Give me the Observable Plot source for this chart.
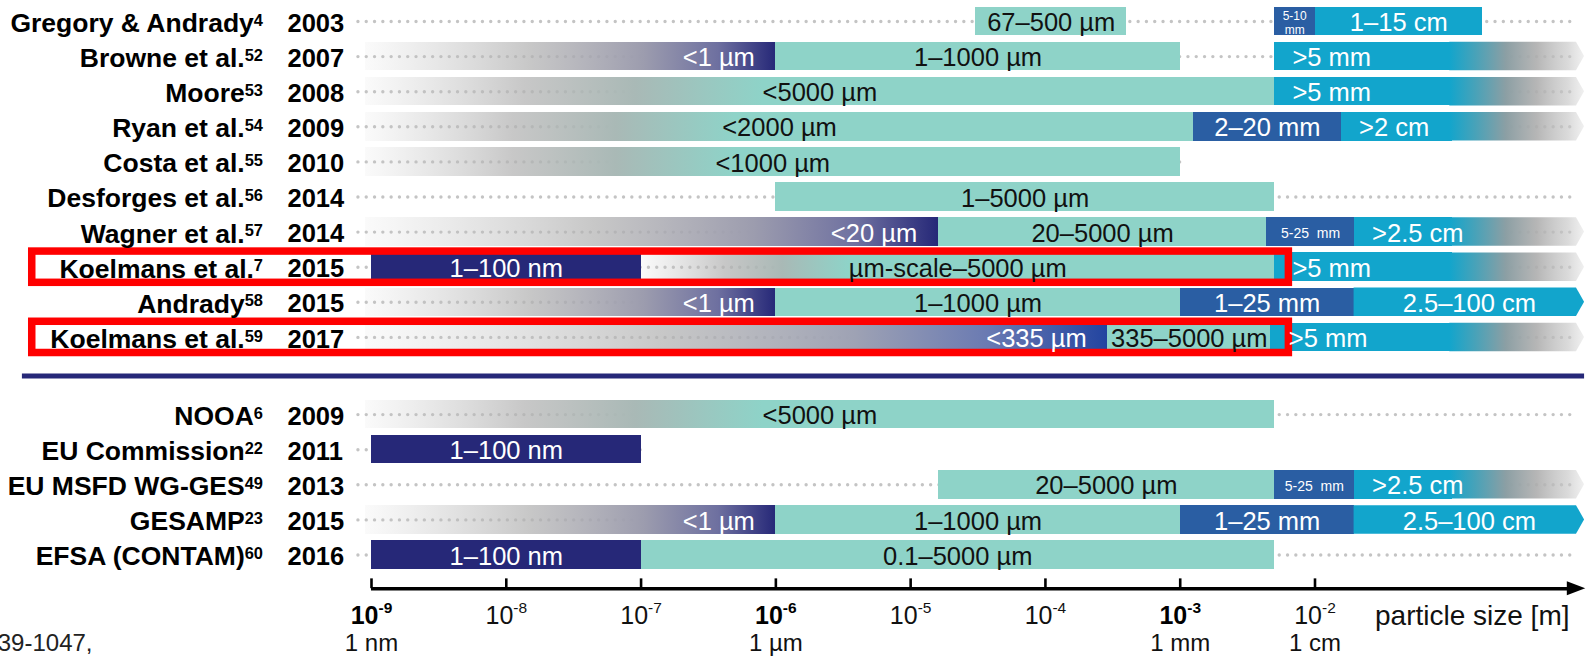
<!DOCTYPE html>
<html><head><meta charset="utf-8">
<script src="https://cdn.jsdelivr.net/npm/d3@7"></script>
<script src="https://cdn.jsdelivr.net/npm/@observablehq/plot@0.6"></script>
<style>html,body{margin:0;padding:0;background:#fff;overflow:hidden}svg{display:block}</style>
</head><body>
<script>
// ---------------- data ----------------
const studies = ["Gregory & Andrady^4", "Browne et al.^52", "Moore^53", "Ryan et al.^54", "Costa et al.^55",
  "Desforges et al.^56", "Wagner et al.^57", "Koelmans et al.^7", "Andrady^58", "Koelmans et al.^59",
  "NOOA^6", "EU Commission^22", "EU MSFD WG-GES^49", "GESAMP^23", "EFSA (CONTAM)^60"];
const years = [2003, 2007, 2008, 2009, 2010, 2014, 2014, 2015, 2015, 2017, 2009, 2011, 2013, 2015, 2016];
const regulatory = [false, false, false, false, false, false, false, false, false, false, true, true, true, true, true];

const LOW = 9e-10;   // open lower end ("<" ranges)
const HIGH = 1;      // open upper end (">" ranges), metres
// [row, from (m), to (m), kind, label, fadeEnd]
const segments = [
  [0, 3.05e-5, 4.0e-4, "teal", "67–500 µm"],
  [0, 5e-3, 1e-2, "mid", "5-10\nmm"],
  [0, 1e-2, 0.175, "cyan", "1–15 cm"],
  [1, LOW, 1e-6, "lowNavy", "<1 µm"],
  [1, 1e-6, 1e-3, "teal", "1–1000 µm"],
  [1, 5e-3, HIGH, "high", ">5 mm"],
  [2, LOW, 5e-3, "lowTeal", "<5000 µm", 8e-7],
  [2, 5e-3, HIGH, "high", ">5 mm"],
  [3, LOW, 1.26e-3, "lowTeal", "<2000 µm", 5e-7],
  [3, 1.26e-3, 1.56e-2, "mid", "2–20 mm"],
  [3, 1.56e-2, HIGH, "high", ">2 cm"],
  [4, LOW, 1e-3, "lowTeal", "<1000 µm", 5e-7],
  [5, 1e-6, 5e-3, "teal", "1–5000 µm"],
  [6, LOW, 1.6e-5, "lowNavy", "<20 µm"],
  [6, 1.6e-5, 4.4e-3, "teal", "20–5000 µm"],
  [6, 4.4e-3, 1.95e-2, "mid", "5-25  mm"],
  [6, 1.95e-2, HIGH, "high", ">2.5 cm"],
  [7, 1e-9, 1e-7, "navy", "1–100 nm"],
  [7, 1e-7, 5e-3, "lowTeal", "µm-scale–5000 µm", 3.5e-6],
  [7, 5e-3, HIGH, "high", ">5 mm"],
  [8, LOW, 1e-6, "lowNavy", "<1 µm"],
  [8, 1e-6, 1e-3, "teal", "1–1000 µm"],
  [8, 1e-3, 1.95e-2, "mid", "1–25 mm"],
  [8, 1.95e-2, HIGH, "arrow", "2.5–100 cm"],
  [9, LOW, 2.9e-4, "lowBlue", "<335 µm"],
  [9, 2.9e-4, 4.7e-3, "teal", "335–5000 µm"],
  [9, 4.7e-3, HIGH, "high", ">5 mm"],
  [10, LOW, 5e-3, "lowTeal", "<5000 µm", 8e-7],
  [11, 1e-9, 1e-7, "navy", "1–100 nm"],
  [12, 1.6e-5, 5e-3, "teal", "20–5000 µm"],
  [12, 5e-3, 1.95e-2, "mid", "5-25  mm"],
  [12, 1.95e-2, HIGH, "high", ">2.5 cm"],
  [13, LOW, 1e-6, "lowNavy", "<1 µm"],
  [13, 1e-6, 1e-3, "teal", "1–1000 µm"],
  [13, 1e-3, 1.95e-2, "mid", "1–25 mm"],
  [13, 1.95e-2, HIGH, "arrow", "2.5–100 cm"],
  [14, 1e-9, 1e-7, "navy", "1–100 nm"],
  [14, 1e-7, 5e-3, "teal", "0.1–5000 µm"]
];
const smallLabels = ["5-10\nmm", "5-25  mm"];
const dotFrom = 8e-10;
const dotTo = [0.9, 0.9, 0.9, 0.9, 1e-3, 0.9, 0.9, 0.9, 0.9, 0.9, 0.9, 1e-7, 0.9, 0.9, 0.9];
const highlighted = [7, 9];
const highlightEnd = 6.4e-3;
const tickExps = [-9, -8, -7, -6, -5, -4, -3, -2];
const boldExps = [-9, -6, -3];
const unitTicks = [1e-9, 1e-6, 1e-3, 1e-2];
const unitLabels = ["1 nm", "1 µm", "1 mm", "1 cm"];
const axisTitle = "particle size [m]";
const caption = "Environ. Sci. Technol. 2019, 53, 1039-1047,";

// ---------------- layout / style ----------------
const GAP = 1.2;
const rowY = i => i + (regulatory[i] ? GAP : 0);
const H = 0.406;
const SEP_ROW = 10.1, AXIS_ROW = 16.16;
const FADE_FROM = 0.1;
const BODY_END = HIGH * 10 ** -0.06;
const LEFT_EDGE = 10 ** -11.59, BOX_LEFT = 10 ** -11.517;
const AXIS_END = 0.8, AXIS_HEAD_BASE = 0.745, AXIS_TIP = 1.02;
const colors = {teal: "#8ed3c8", navy: "#262878", mid: "#2a5ea3", cyan: "#12a5cc"};
const navy = "#262878";

const rows = studies.map((name, i) => ({name, year: String(years[i]), y: rowY(i), i}));
const segs = segments.map(([row, from, to, kind, label, fadeEnd]) => ({row, y: rowY(row), from, to, kind, label, fadeEnd}));

const solid = [], grads = [], arrowPts = [];
function pentagon(s, start, fill) {
  const id = arrowPts.length;
  arrowPts.push({id, fill, x: start, y1: s.y - H, y2: s.y + H},
                {id, fill, x: BODY_END, y1: s.y - H, y2: s.y + H},
                {id, fill, x: s.to, y1: s.y, y2: s.y});
}
for (const s of segs) {
  if (s.kind in colors) solid.push({...s, fill: colors[s.kind]});
  else if (s.kind === "lowNavy") grads.push({...s, fill: "url(#gLowNavy)"});
  else if (s.kind === "lowBlue") grads.push({...s, fill: "url(#gLowBlue)"});
  else if (s.kind === "lowTeal") {
    grads.push({...s, to: s.fadeEnd, fill: "url(#gLowTeal)"});
    solid.push({...s, from: s.fadeEnd, fill: colors.teal});
  } else if (s.kind === "high") {
    solid.push({...s, to: FADE_FROM * 1.05, fill: colors.cyan});
    pentagon(s, FADE_FROM, "url(#gHigh)");
  } else if (s.kind === "arrow") pentagon(s, s.from, colors.cyan);
}
const labelColor = s => (s.kind === "teal" || s.kind === "lowTeal") ? "#111" : "#fff";
const endLabels = segs.filter(s => s.kind === "lowNavy" || s.kind === "lowBlue");
const startLabels = segs.filter(s => s.kind === "high");
const midLabels = segs.filter(s => !endLabels.includes(s) && !startLabels.includes(s) && !smallLabels.includes(s.label));
const tinyLabels = segs.filter(s => smallLabels.includes(s.label));

const font = '"Liberation Sans", Arial, Helvetica, sans-serif';
const rectOpts = {x1: "from", x2: "to", y1: d => d.y - H, y2: d => d.y + H, fill: "fill", shapeRendering: "crispEdges"};

const chart = Plot.plot({
  width: 1596, height: 656, margin: 0,
  style: {fontFamily: font, background: "#fff", overflow: "hidden"},
  x: {type: "log", domain: [1e-9, 1e-2], range: [371, 1314.5], axis: null},
  y: {type: "linear", domain: [0, 15.2], range: [21, 554.5], axis: null},
  color: {type: "identity"},
  marks: [
    Plot.ruleY(rows, {y: "y", x1: () => dotFrom, x2: d => dotTo[d.i], stroke: "#c4c4c4", strokeWidth: 3.4, strokeLinecap: "round", strokeDasharray: "0 8.3"}),
    Plot.rect(grads, rectOpts),
    Plot.rect(solid, rectOpts),
    Plot.areaY(arrowPts, {x: "x", y1: "y1", y2: "y2", z: "id", fill: "fill", curve: "linear"}),
    Plot.rect(highlighted, {x1: () => BOX_LEFT, x2: () => highlightEnd, y1: r => rowY(r) - 0.445, y2: r => rowY(r) + 0.445, fill: "none", stroke: "#ff0000", strokeWidth: 7.5}),
    Plot.ruleY([SEP_ROW], {y: d => d, x1: () => LEFT_EDGE, x2: () => HIGH, stroke: navy, strokeWidth: 5}),
    // axis
    Plot.ruleY([AXIS_ROW], {y: d => d, x1: () => 1e-9, x2: () => AXIS_END, stroke: "#000", strokeWidth: 3.4}),
    Plot.areaY([{x: AXIS_HEAD_BASE, y1: AXIS_ROW - 0.2, y2: AXIS_ROW + 0.2}, {x: AXIS_TIP, y1: AXIS_ROW, y2: AXIS_ROW}], {x: "x", y1: "y1", y2: "y2", fill: () => "#000"}),
    Plot.ruleX(tickExps, {x: e => 10 ** e, y1: () => AXIS_ROW - 0.28, y2: () => AXIS_ROW, stroke: "#000", strokeWidth: 2.6}),
    Plot.text(tickExps.filter(e => !boldExps.includes(e)), {x: e => 10 ** e, y: () => AXIS_ROW, dy: 27, text: e => `10^${e}`, fontSize: 25, fill: () => "#111"}),
    Plot.text(boldExps, {x: e => 10 ** e, y: () => AXIS_ROW, dy: 27, text: e => `10^${e}`, fontSize: 25, fontWeight: "bold", fill: () => "#000"}),
    Plot.text(unitTicks, {x: d => d, y: () => AXIS_ROW, dy: 55, text: (d, i) => unitLabels[i], fontSize: 24, fill: () => "#111"}),
    Plot.text([axisTitle], {frameAnchor: "right", y: () => AXIS_ROW, dx: -27, dy: 27, textAnchor: "end", text: d => d, fontSize: 28, fill: () => "#111"}),
    Plot.text([caption], {frameAnchor: "left", y: () => AXIS_ROW, dx: 92, dy: 55, textAnchor: "end", text: d => d, fontSize: 24, fill: () => "#222"}),
    // row labels
    Plot.text(rows, {y: "y", text: "name", frameAnchor: "left", dx: 262.5, dy: 2, textAnchor: "end", fontWeight: "bold", fontSize: 26.5, fill: () => "#000"}),
    Plot.text(rows, {y: "y", text: "year", frameAnchor: "left", dx: 287, dy: 2, textAnchor: "start", fontWeight: "bold", fontSize: 25.5, fill: () => "#000"}),
    // bar labels
    Plot.text(midLabels, {x: d => Math.sqrt(d.from * d.to), y: "y", dy: 1.5, text: "label", fontSize: 25.5, fill: labelColor}),
    Plot.text(endLabels, {x: "to", y: "y", dx: -21, dy: 1.5, text: "label", textAnchor: "end", fontSize: 25.5, fill: labelColor}),
    Plot.text(startLabels, {x: "from", y: "y", dx: 18, dy: 1.5, text: "label", textAnchor: "start", fontSize: 25.5, fill: labelColor}),
    Plot.text(tinyLabels, {x: d => Math.sqrt(d.from * d.to), y: "y", dy: 1, text: "label", fontSize: d => d.label.includes("\n") ? 12 : 14, lineHeight: 1.15, fill: labelColor})
  ]
});
document.body.append(chart);
const svgEl = chart.tagName.toLowerCase() === "svg" ? chart : chart.querySelector("svg");

// gradients
const defs = d3.select(svgEl).insert("defs", ":first-child");
function grad(id, stops) {
  const g = defs.append("linearGradient").attr("id", id).attr("x1", 0).attr("x2", 1).attr("y1", 0).attr("y2", 0);
  for (const [o, c, a = 1] of stops) g.append("stop").attr("offset", o).attr("stop-color", c).attr("stop-opacity", a);
}
grad("gLowNavy", [[0, "#c4c4c4", 0.08], [0.4, "#b2b2b2", 0.72], [0.68, "#9c9cae"], [0.86, "#6e70a0"], [1, navy]]);
grad("gLowBlue", [[0, "#c4c4c4", 0.08], [0.4, "#b2b2b2", 0.72], [0.66, "#9ea2b4"], [0.84, "#6a7ab2"], [1, "#2244a0"]]);
grad("gLowTeal", [[0, "#c4c4c4", 0.08], [0.4, "#b2b2b2", 0.72], [0.68, "#a9b9b6"], [1, colors.teal]]);
grad("gHigh", [[0, colors.cyan], [0.2, "#4aa2b8"], [0.42, "#8c9fa4"], [0.65, "#aeaeae", 0.9], [0.88, "#c6c6c6", 0.65], [1, "#d4d4d4", 0.35]]);

// superscripts ("^")
const NS = "http://www.w3.org/2000/svg";
for (const el of svgEl.querySelectorAll("text")) {
  const t = el.textContent;
  if (!t.includes("^") || el.querySelector("tspan")) continue;
  const [a, b] = t.split("^");
  const fs = parseFloat(getComputedStyle(el).fontSize);
  const isTick = a === "10";
  el.textContent = "";
  const t1 = document.createElementNS(NS, "tspan"); t1.textContent = a;
  const t2 = document.createElementNS(NS, "tspan"); t2.textContent = b;
  t2.setAttribute("font-size", fs * 0.62);
  t2.setAttribute("dy", -fs * (isTick ? 0.42 : 0.24));
  el.append(t1, t2);
}
</script>
</body></html>
